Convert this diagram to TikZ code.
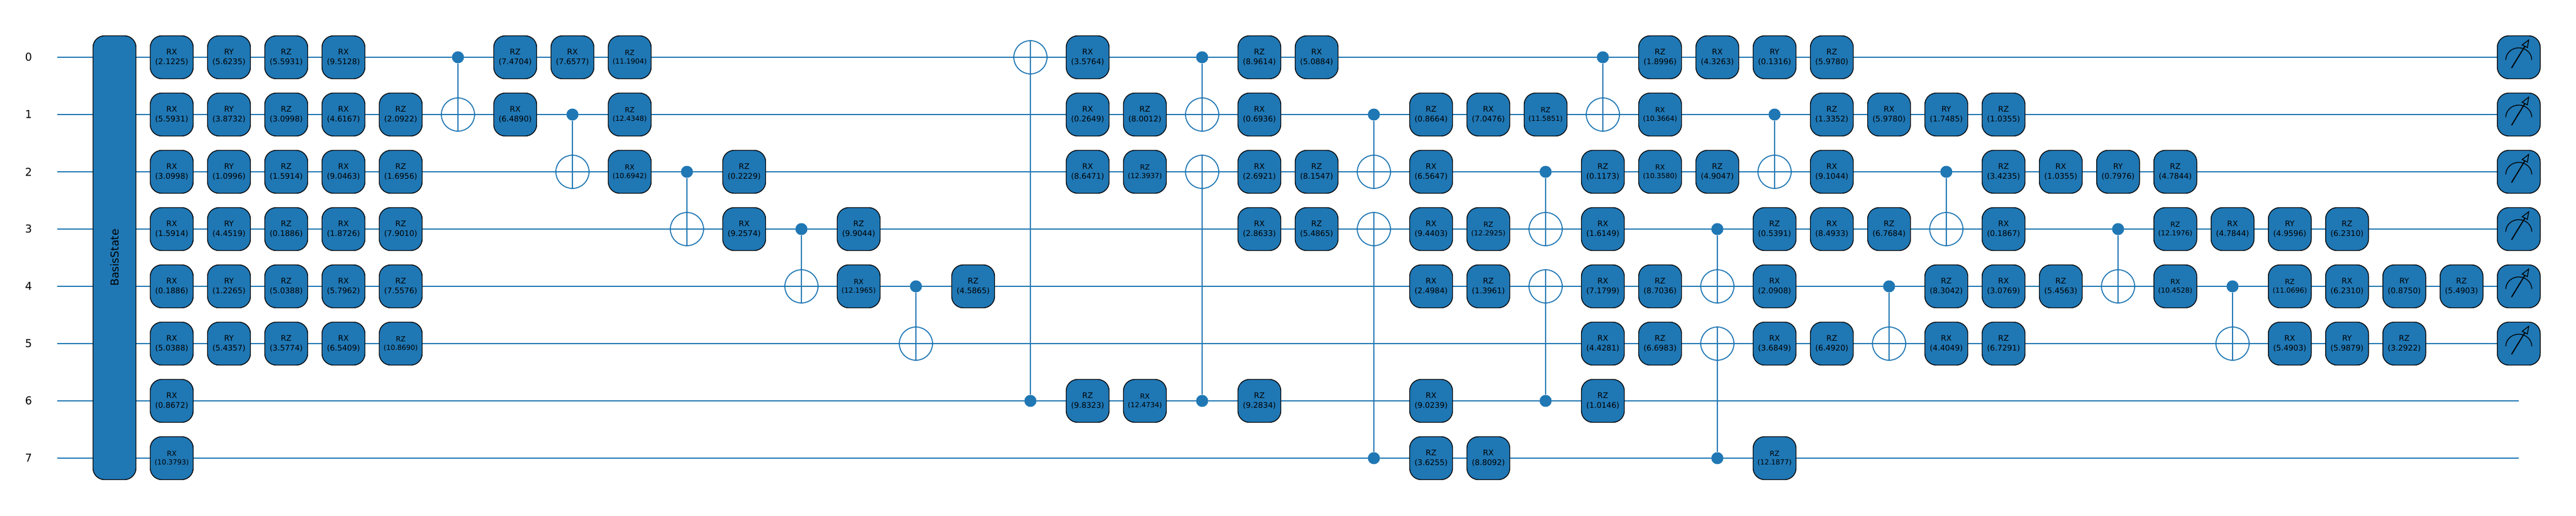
\documentclass[tikz,border=0pt]{standalone}
\usepackage{fontspec}
\setmainfont{DejaVu Sans}
\usetikzlibrary{backgrounds}
\definecolor{qblue}{HTML}{1F77B4}
\tikzset{
  gatebox/.style={rectangle,rounded corners=0.2cm,draw=black,line width=0.4pt,fill=qblue,minimum width=0.75cm,minimum height=0.75cm,inner sep=0pt,align=center,font=\fontsize{3.84pt}{4.84pt}\selectfont},
  gatesmall/.style={gatebox,font=\fontsize{3.47pt}{4.27pt}\selectfont},
  basisbox/.style={gatebox,minimum width=7.75cm,rotate=90,font=\fontsize{5.4pt}{6.5pt}\selectfont},
  wirelabel/.style={inner sep=0pt,font=\fontsize{5.4pt}{6.5pt}\selectfont},
  ctrlnode/.style={circle,fill=qblue,minimum size=0.21cm,inner sep=0pt},
  targnode/.style={circle,draw=qblue,line width=0.5pt,minimum size=0.58cm,inner sep=0pt},
  wireline/.style={qblue,line width=0.57pt},
  stemline/.style={qblue,line width=0.5pt},
  meterface/.pic={
    \draw[black,line width=0.4pt] (-0.227,0.046) .. controls (-0.227,-0.07) and (-0.125,-0.165) .. (0,-0.165) .. controls (0.125,-0.165) and (0.227,-0.07) .. (0.227,0.046);
    \draw[black,line width=0.55pt] (-0.127,0.188) -- (0.105,-0.19);
    \draw[black,line width=0.4pt] (0.173,-0.303) -- (0.06,-0.215) -- (0.15,-0.17) -- cycle;
  }
}
\begin{document}
\begin{tikzpicture}[x=1cm,y=-1cm]
\useasboundingbox (0,0) rectangle (45,9);
\node[wirelabel] (l0) at (0.5,1) {0};
\node[wirelabel] (l1) at (0.5,2) {1};
\node[wirelabel] (l2) at (0.5,3) {2};
\node[wirelabel] (l3) at (0.5,4) {3};
\node[wirelabel] (l4) at (0.5,5) {4};
\node[wirelabel] (l5) at (0.5,6) {5};
\node[wirelabel] (l6) at (0.5,7) {6};
\node[wirelabel] (l7) at (0.5,8) {7};
\coordinate (s0) at (1,1);
\coordinate (s1) at (1,2);
\coordinate (s2) at (1,3);
\coordinate (s3) at (1,4);
\coordinate (s4) at (1,5);
\coordinate (s5) at (1,6);
\coordinate (s6) at (1,7);
\coordinate (s7) at (1,8);
\coordinate (e6) at (44,7);
\coordinate (e7) at (44,8);
\node[basisbox] (basis) at (2,4.5) {BasisState};
\node[gatebox] (q0c3) at (3,1) {RX\\(2.1225)};
\node[gatebox] (q1c3) at (3,2) {RX\\(5.5931)};
\node[gatebox] (q2c3) at (3,3) {RX\\(3.0998)};
\node[gatebox] (q3c3) at (3,4) {RX\\(1.5914)};
\node[gatebox] (q4c3) at (3,5) {RX\\(0.1886)};
\node[gatebox] (q5c3) at (3,6) {RX\\(5.0388)};
\node[gatebox] (q6c3) at (3,7) {RX\\(0.8672)};
\node[gatesmall] (q7c3) at (3,8) {RX\\(10.3793)};
\node[gatebox] (q0c4) at (4,1) {RY\\(5.6235)};
\node[gatebox] (q1c4) at (4,2) {RY\\(3.8732)};
\node[gatebox] (q2c4) at (4,3) {RY\\(1.0996)};
\node[gatebox] (q3c4) at (4,4) {RY\\(4.4519)};
\node[gatebox] (q4c4) at (4,5) {RY\\(1.2265)};
\node[gatebox] (q5c4) at (4,6) {RY\\(5.4357)};
\node[gatebox] (q0c5) at (5,1) {RZ\\(5.5931)};
\node[gatebox] (q1c5) at (5,2) {RZ\\(3.0998)};
\node[gatebox] (q2c5) at (5,3) {RZ\\(1.5914)};
\node[gatebox] (q3c5) at (5,4) {RZ\\(0.1886)};
\node[gatebox] (q4c5) at (5,5) {RZ\\(5.0388)};
\node[gatebox] (q5c5) at (5,6) {RZ\\(3.5774)};
\node[gatebox] (q0c6) at (6,1) {RX\\(9.5128)};
\node[gatebox] (q1c6) at (6,2) {RX\\(4.6167)};
\node[gatebox] (q2c6) at (6,3) {RX\\(9.0463)};
\node[gatebox] (q3c6) at (6,4) {RX\\(1.8726)};
\node[gatebox] (q4c6) at (6,5) {RX\\(5.7962)};
\node[gatebox] (q5c6) at (6,6) {RX\\(6.5409)};
\node[gatebox] (q1c7) at (7,2) {RZ\\(2.0922)};
\node[gatebox] (q2c7) at (7,3) {RZ\\(1.6956)};
\node[gatebox] (q3c7) at (7,4) {RZ\\(7.9010)};
\node[gatebox] (q4c7) at (7,5) {RZ\\(7.5576)};
\node[gatesmall] (q5c7) at (7,6) {RZ\\(10.8690)};
\node[ctrlnode] (c0c8) at (8,1) {};
\node[targnode] (t1c8) at (8,2) {};
\node[gatebox] (q0c9) at (9,1) {RZ\\(7.4704)};
\node[gatebox] (q1c9) at (9,2) {RX\\(6.4890)};
\node[gatebox] (q0c10) at (10,1) {RX\\(7.6577)};
\node[ctrlnode] (c1c10) at (10,2) {};
\node[targnode] (t2c10) at (10,3) {};
\node[gatesmall] (q0c11) at (11,1) {RZ\\(11.1904)};
\node[gatesmall] (q1c11) at (11,2) {RZ\\(12.4348)};
\node[gatesmall] (q2c11) at (11,3) {RX\\(10.6942)};
\node[ctrlnode] (c2c12) at (12,3) {};
\node[targnode] (t3c12) at (12,4) {};
\node[gatebox] (q2c13) at (13,3) {RZ\\(0.2229)};
\node[gatebox] (q3c13) at (13,4) {RX\\(9.2574)};
\node[ctrlnode] (c3c14) at (14,4) {};
\node[targnode] (t4c14) at (14,5) {};
\node[gatebox] (q3c15) at (15,4) {RZ\\(9.9044)};
\node[gatesmall] (q4c15) at (15,5) {RX\\(12.1965)};
\node[ctrlnode] (c4c16) at (16,5) {};
\node[targnode] (t5c16) at (16,6) {};
\node[gatebox] (q4c17) at (17,5) {RZ\\(4.5865)};
\node[targnode] (t0c18) at (18,1) {};
\node[ctrlnode] (c6c18) at (18,7) {};
\node[gatebox] (q0c19) at (19,1) {RX\\(3.5764)};
\node[gatebox] (q1c19) at (19,2) {RX\\(0.2649)};
\node[gatebox] (q2c19) at (19,3) {RX\\(8.6471)};
\node[gatebox] (q6c19) at (19,7) {RZ\\(9.8323)};
\node[gatebox] (q1c20) at (20,2) {RZ\\(8.0012)};
\node[gatesmall] (q2c20) at (20,3) {RZ\\(12.3937)};
\node[gatesmall] (q6c20) at (20,7) {RX\\(12.4734)};
\node[ctrlnode] (c0c21) at (21,1) {};
\node[targnode] (t1c21) at (21,2) {};
\node[targnode] (t2c21) at (21,3) {};
\node[ctrlnode] (c6c21) at (21,7) {};
\node[gatebox] (q0c22) at (22,1) {RZ\\(8.9614)};
\node[gatebox] (q1c22) at (22,2) {RX\\(0.6936)};
\node[gatebox] (q2c22) at (22,3) {RX\\(2.6921)};
\node[gatebox] (q3c22) at (22,4) {RX\\(2.8633)};
\node[gatebox] (q6c22) at (22,7) {RZ\\(9.2834)};
\node[gatebox] (q0c23) at (23,1) {RX\\(5.0884)};
\node[gatebox] (q2c23) at (23,3) {RZ\\(8.1547)};
\node[gatebox] (q3c23) at (23,4) {RZ\\(5.4865)};
\node[ctrlnode] (c1c24) at (24,2) {};
\node[targnode] (t2c24) at (24,3) {};
\node[targnode] (t3c24) at (24,4) {};
\node[ctrlnode] (c7c24) at (24,8) {};
\node[gatebox] (q1c25) at (25,2) {RZ\\(0.8664)};
\node[gatebox] (q2c25) at (25,3) {RX\\(6.5647)};
\node[gatebox] (q3c25) at (25,4) {RX\\(9.4403)};
\node[gatebox] (q4c25) at (25,5) {RX\\(2.4984)};
\node[gatebox] (q6c25) at (25,7) {RX\\(9.0239)};
\node[gatebox] (q7c25) at (25,8) {RZ\\(3.6255)};
\node[gatebox] (q1c26) at (26,2) {RX\\(7.0476)};
\node[gatesmall] (q3c26) at (26,4) {RZ\\(12.2925)};
\node[gatebox] (q4c26) at (26,5) {RZ\\(1.3961)};
\node[gatebox] (q7c26) at (26,8) {RX\\(8.8092)};
\node[gatesmall] (q1c27) at (27,2) {RZ\\(11.5851)};
\node[ctrlnode] (c2c27) at (27,3) {};
\node[targnode] (t3c27) at (27,4) {};
\node[targnode] (t4c27) at (27,5) {};
\node[ctrlnode] (c6c27) at (27,7) {};
\node[ctrlnode] (c0c28) at (28,1) {};
\node[targnode] (t1c28) at (28,2) {};
\node[gatebox] (q2c28) at (28,3) {RZ\\(0.1173)};
\node[gatebox] (q3c28) at (28,4) {RX\\(1.6149)};
\node[gatebox] (q4c28) at (28,5) {RX\\(7.1799)};
\node[gatebox] (q5c28) at (28,6) {RX\\(4.4281)};
\node[gatebox] (q6c28) at (28,7) {RZ\\(1.0146)};
\node[gatebox] (q0c29) at (29,1) {RZ\\(1.8996)};
\node[gatesmall] (q1c29) at (29,2) {RX\\(10.3664)};
\node[gatesmall] (q2c29) at (29,3) {RX\\(10.3580)};
\node[gatebox] (q4c29) at (29,5) {RZ\\(8.7036)};
\node[gatebox] (q5c29) at (29,6) {RZ\\(6.6983)};
\node[gatebox] (q0c30) at (30,1) {RX\\(4.3263)};
\node[gatebox] (q2c30) at (30,3) {RZ\\(4.9047)};
\node[ctrlnode] (c3c30) at (30,4) {};
\node[targnode] (t4c30) at (30,5) {};
\node[targnode] (t5c30) at (30,6) {};
\node[ctrlnode] (c7c30) at (30,8) {};
\node[gatebox] (q0c31) at (31,1) {RY\\(0.1316)};
\node[ctrlnode] (c1c31) at (31,2) {};
\node[targnode] (t2c31) at (31,3) {};
\node[gatebox] (q3c31) at (31,4) {RZ\\(0.5391)};
\node[gatebox] (q4c31) at (31,5) {RX\\(2.0908)};
\node[gatebox] (q5c31) at (31,6) {RX\\(3.6849)};
\node[gatesmall] (q7c31) at (31,8) {RZ\\(12.1877)};
\node[gatebox] (q0c32) at (32,1) {RZ\\(5.9780)};
\node[gatebox] (q1c32) at (32,2) {RZ\\(1.3352)};
\node[gatebox] (q2c32) at (32,3) {RX\\(9.1044)};
\node[gatebox] (q3c32) at (32,4) {RX\\(8.4933)};
\node[gatebox] (q5c32) at (32,6) {RZ\\(6.4920)};
\node[gatebox] (q1c33) at (33,2) {RX\\(5.9780)};
\node[gatebox] (q3c33) at (33,4) {RZ\\(6.7684)};
\node[ctrlnode] (c4c33) at (33,5) {};
\node[targnode] (t5c33) at (33,6) {};
\node[gatebox] (q1c34) at (34,2) {RY\\(1.7485)};
\node[ctrlnode] (c2c34) at (34,3) {};
\node[targnode] (t3c34) at (34,4) {};
\node[gatebox] (q4c34) at (34,5) {RZ\\(8.3042)};
\node[gatebox] (q5c34) at (34,6) {RX\\(4.4049)};
\node[gatebox] (q1c35) at (35,2) {RZ\\(1.0355)};
\node[gatebox] (q2c35) at (35,3) {RZ\\(3.4235)};
\node[gatebox] (q3c35) at (35,4) {RX\\(0.1867)};
\node[gatebox] (q4c35) at (35,5) {RX\\(3.0769)};
\node[gatebox] (q5c35) at (35,6) {RZ\\(6.7291)};
\node[gatebox] (q2c36) at (36,3) {RX\\(1.0355)};
\node[gatebox] (q4c36) at (36,5) {RZ\\(5.4563)};
\node[gatebox] (q2c37) at (37,3) {RY\\(0.7976)};
\node[ctrlnode] (c3c37) at (37,4) {};
\node[targnode] (t4c37) at (37,5) {};
\node[gatebox] (q2c38) at (38,3) {RZ\\(4.7844)};
\node[gatesmall] (q3c38) at (38,4) {RZ\\(12.1976)};
\node[gatesmall] (q4c38) at (38,5) {RX\\(10.4528)};
\node[gatebox] (q3c39) at (39,4) {RX\\(4.7844)};
\node[ctrlnode] (c4c39) at (39,5) {};
\node[targnode] (t5c39) at (39,6) {};
\node[gatebox] (q3c40) at (40,4) {RY\\(4.9596)};
\node[gatesmall] (q4c40) at (40,5) {RZ\\(11.0696)};
\node[gatebox] (q5c40) at (40,6) {RX\\(5.4903)};
\node[gatebox] (q3c41) at (41,4) {RZ\\(6.2310)};
\node[gatebox] (q4c41) at (41,5) {RX\\(6.2310)};
\node[gatebox] (q5c41) at (41,6) {RY\\(5.9879)};
\node[gatebox] (q4c42) at (42,5) {RY\\(0.8750)};
\node[gatebox] (q5c42) at (42,6) {RZ\\(3.2922)};
\node[gatebox] (q4c43) at (43,5) {RZ\\(5.4903)};
\node[gatebox] (m0) at (44,1) {};
\node[gatebox] (m1) at (44,2) {};
\node[gatebox] (m2) at (44,3) {};
\node[gatebox] (m3) at (44,4) {};
\node[gatebox] (m4) at (44,5) {};
\node[gatebox] (m5) at (44,6) {};
\pic at (m0) {meterface};
\pic at (m1) {meterface};
\pic at (m2) {meterface};
\pic at (m3) {meterface};
\pic at (m4) {meterface};
\pic at (m5) {meterface};
\begin{scope}[on background layer]
\path[draw,wireline](s0) edge (m0);
\path[draw,wireline](s1) edge (m1);
\path[draw,wireline](s2) edge (m2);
\path[draw,wireline](s3) edge (m3);
\path[draw,wireline](s4) edge (m4);
\path[draw,wireline](s5) edge (m5);
\path[draw,wireline](s6) edge (e6);
\path[draw,wireline](s7) edge (e7);
\path[draw,stemline](c0c8) edge (t1c8.south);
\path[draw,stemline](c1c10) edge (t2c10.south);
\path[draw,stemline](c2c12) edge (t3c12.south);
\path[draw,stemline](c3c14) edge (t4c14.south);
\path[draw,stemline](c4c16) edge (t5c16.south);
\path[draw,stemline](c6c18) edge (t0c18.north);
\path[draw,stemline](c0c21) edge (t1c21.south);
\path[draw,stemline](c6c21) edge (t2c21.north);
\path[draw,stemline](c1c24) edge (t2c24.south);
\path[draw,stemline](c7c24) edge (t3c24.north);
\path[draw,stemline](c2c27) edge (t3c27.south);
\path[draw,stemline](c6c27) edge (t4c27.north);
\path[draw,stemline](c0c28) edge (t1c28.south);
\path[draw,stemline](c3c30) edge (t4c30.south);
\path[draw,stemline](c7c30) edge (t5c30.north);
\path[draw,stemline](c1c31) edge (t2c31.south);
\path[draw,stemline](c4c33) edge (t5c33.south);
\path[draw,stemline](c2c34) edge (t3c34.south);
\path[draw,stemline](c3c37) edge (t4c37.south);
\path[draw,stemline](c4c39) edge (t5c39.south);
\end{scope}
\end{tikzpicture}
\end{document}
